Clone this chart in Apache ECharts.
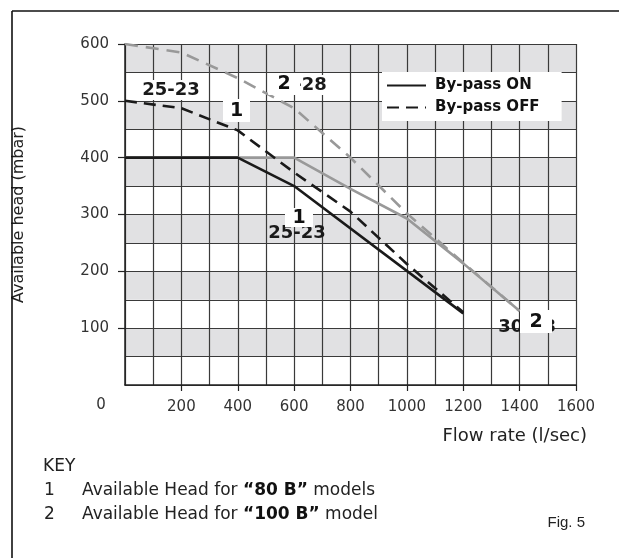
<!DOCTYPE html>
<html><head><meta charset="utf-8">
<script src="https://cdn.jsdelivr.net/npm/echarts@6/dist/echarts.min.js"></script>
<style>html,body{margin:0;padding:0;background:#fff}#c{width:619px;height:558px}</style>
</head><body><div id="c"></div>
<script>
// Flow rate (l/sec) vs available head (mbar)
const m80_on_x  = [0, 400, 600, 1200];
const m80_on_y  = [400, 400, 350, 126];
const m80_off_x = [0, 200, 400, 600, 800, 1000, 1200];
const m80_off_y = [500, 487, 448, 374, 305, 213, 128];
const m100_on_x = [0, 400, 600, 800, 1000, 1200, 1400];
const m100_on_y = [400, 400, 400, 345, 293, 214, 130];
const m100_off_x = [0, 200, 400, 600, 800, 1000, 1200, 1400];
const m100_off_y = [600, 585, 540, 487, 400, 302, 215, 130];
const xTicks = [200, 400, 600, 800, 1000, 1200, 1400, 1600];
const yTicks = [100, 200, 300, 400, 500, 600];

const pair = (xs, ys) => xs.map((x, i) => [x, ys[i]]);
const FONT = 'DejaVu Sans';
const chart = echarts.init(document.getElementById('c'), null, {renderer: 'canvas'});

const gridLine = {show: true, lineStyle: {color: '#3a3a3a', width: 1.2}};
const option = {
  animation: false,
  backgroundColor: '#fff',
  textStyle: {fontFamily: FONT},
  grid: {left: 125, right: 43, top: 44, bottom: 173, containLabel: false},
  legend: {
    data: ['By-pass ON', 'By-pass OFF'],
    orient: 'vertical', left: 382, top: 72,
    backgroundColor: '#fff', padding: [6, 22, 6, 4], itemGap: 7,
    itemWidth: 39, itemHeight: 14,
    itemStyle: {opacity: 0},
    textStyle: {fontFamily: FONT, fontWeight: 'bold', fontSize: 15, color: '#111', padding: [0, 0, 0, 4]}
  },
  xAxis: [{
    type: 'value', min: 0, max: 1600, interval: 200,
    axisLine: {show: true, lineStyle: {color: '#222', width: 1.5}},
    axisTick: {show: true, length: 6, customValues: xTicks, lineStyle: {color: '#222', width: 1.2}},
    axisLabel: {margin: 15, fontSize: 15, color: '#333', fontFamily: FONT, customValues: xTicks,
      formatter: v => xTicks.includes(v) ? String(v) : ''},
    splitLine: {show: false},
    name: 'Flow rate (l/sec)', nameLocation: 'end',
    nameTextStyle: {fontSize: 18, color: '#222', fontFamily: FONT, align: 'right', verticalAlign: 'top', padding: [42, 0, 0, 0]},
    nameGap: 11
  }, {
    type: 'value', min: 0, max: 1600, interval: 100, position: 'bottom',
    axisLine: {show: false}, axisTick: {show: false}, axisLabel: {show: false},
    splitLine: gridLine
  }],
  yAxis: [{
    type: 'value', min: 0, max: 600, interval: 100,
    axisLine: {show: true, lineStyle: {color: '#222', width: 1.5}},
    axisTick: {show: true, length: 7, customValues: yTicks, lineStyle: {color: '#222', width: 1.2}},
    axisLabel: {margin: 16, fontSize: 15, color: '#333', fontFamily: FONT, customValues: yTicks,
      formatter: v => yTicks.includes(v) ? String(v) : ''},
    splitLine: {show: false},
    name: 'Available head (mbar)', nameLocation: 'middle', nameGap: 98, nameRotate: 90,
    nameTextStyle: {fontSize: 16, color: '#222', fontFamily: FONT}
  }, {
    type: 'value', min: 0, max: 600, interval: 50, position: 'left',
    axisLine: {show: false}, axisTick: {show: false}, axisLabel: {show: false},
    splitLine: gridLine,
    splitArea: {show: true, areaStyle: {color: ['#ffffff', '#e1e1e3']}}
  }],
  series: [
    {name: '100 B ON', type: 'line', data: pair(m100_on_x, m100_on_y), symbol: 'none', z: 3,
     lineStyle: {color: '#999', width: 2.6}},
    {name: '100 B OFF', type: 'line', data: pair(m100_off_x, m100_off_y), symbol: 'none', z: 3,
     lineStyle: {color: '#999', width: 2.6, type: [13, 8]}},
    {name: 'By-pass ON', type: 'line', data: pair(m80_on_x, m80_on_y), symbol: 'none', z: 4,
     itemStyle: {color: '#1a1a1a'}, lineStyle: {color: '#1a1a1a', width: 2.6}},
    {name: 'By-pass OFF', type: 'line', data: pair(m80_off_x, m80_off_y), symbol: 'none', z: 4,
     itemStyle: {color: '#1a1a1a'}, lineStyle: {color: '#1a1a1a', width: 2.6, type: [12, 7]}}
  ]
};
chart.setOption(option);

function txt(x, y, s, o) {
  return {type: 'text', x: x, y: y, z: 50,
    style: Object.assign({text: s, fontFamily: FONT, fontSize: 14, fill: '#222',
      align: 'left', verticalAlign: 'middle'}, o || {})};
}
function box(x, y, w, h, label) {
  return [{type: 'rect', shape: {x: x, y: y, width: w, height: h}, style: {fill: '#fff'}, z: 60},
    {type: 'text', x: x + w / 2, y: y + h / 2 + 1, z: 61,
     style: {text: label, fontFamily: FONT, fontSize: 19, fontWeight: 'bold', fill: '#111', align: 'center', verticalAlign: 'middle'}}];
}
const boldLbl = {fontSize: 18, fontWeight: 'bold', fill: '#1a1a1a', align: 'center'};
const rich = {n: {fontFamily: FONT, fontSize: 17, fill: '#222'}, b: {fontFamily: FONT, fontSize: 17, fontWeight: 'bold', fill: '#111'}};
const graphics = [
  {type: 'line', shape: {x1: 12, y1: 11, x2: 619, y2: 11}, style: {stroke: '#111', lineWidth: 1.6}, z: 40},
  {type: 'line', shape: {x1: 12, y1: 11, x2: 12, y2: 558}, style: {stroke: '#111', lineWidth: 1.6}, z: 40},
  txt(101, 405, '0', {fontSize: 15, fill: '#333', align: 'center'}),
  txt(171, 90, '25-23', Object.assign({backgroundColor: '#fff', padding: [1, 0]}, boldLbl)),
  txt(298, 85, '30-28', Object.assign({backgroundColor: '#fff', padding: [1, 1]}, boldLbl)),
  txt(297, 233, '25-23', boldLbl),
  txt(527, 327, '30-28', boldLbl),
  ...box(223, 99, 27, 23, '1'),
  ...box(268, 73, 32, 21, '2'),
  ...box(285, 208, 28, 19, '1'),
  ...box(520, 310, 32, 23, '2'),
  txt(43, 467, 'KEY', {fontSize: 17}),
  txt(44, 491, '1', {fontSize: 17}),
  txt(44, 515, '2', {fontSize: 17}),
  {type: 'text', x: 82, y: 491, z: 50, style: {
    text: '{n|Available Head for }{b|“80 B”}{n| models}', verticalAlign: 'middle', rich: rich}},
  {type: 'text', x: 82, y: 515, z: 50, style: {
    text: '{n|Available Head for }{b|“100 B”}{n| model}', verticalAlign: 'middle', rich: rich}},
  txt(585, 523, 'Fig. 5', {fontSize: 15, align: 'right', fontFamily: 'Liberation Sans'})
];
chart.setOption({graphic: graphics});
</script></body></html>
